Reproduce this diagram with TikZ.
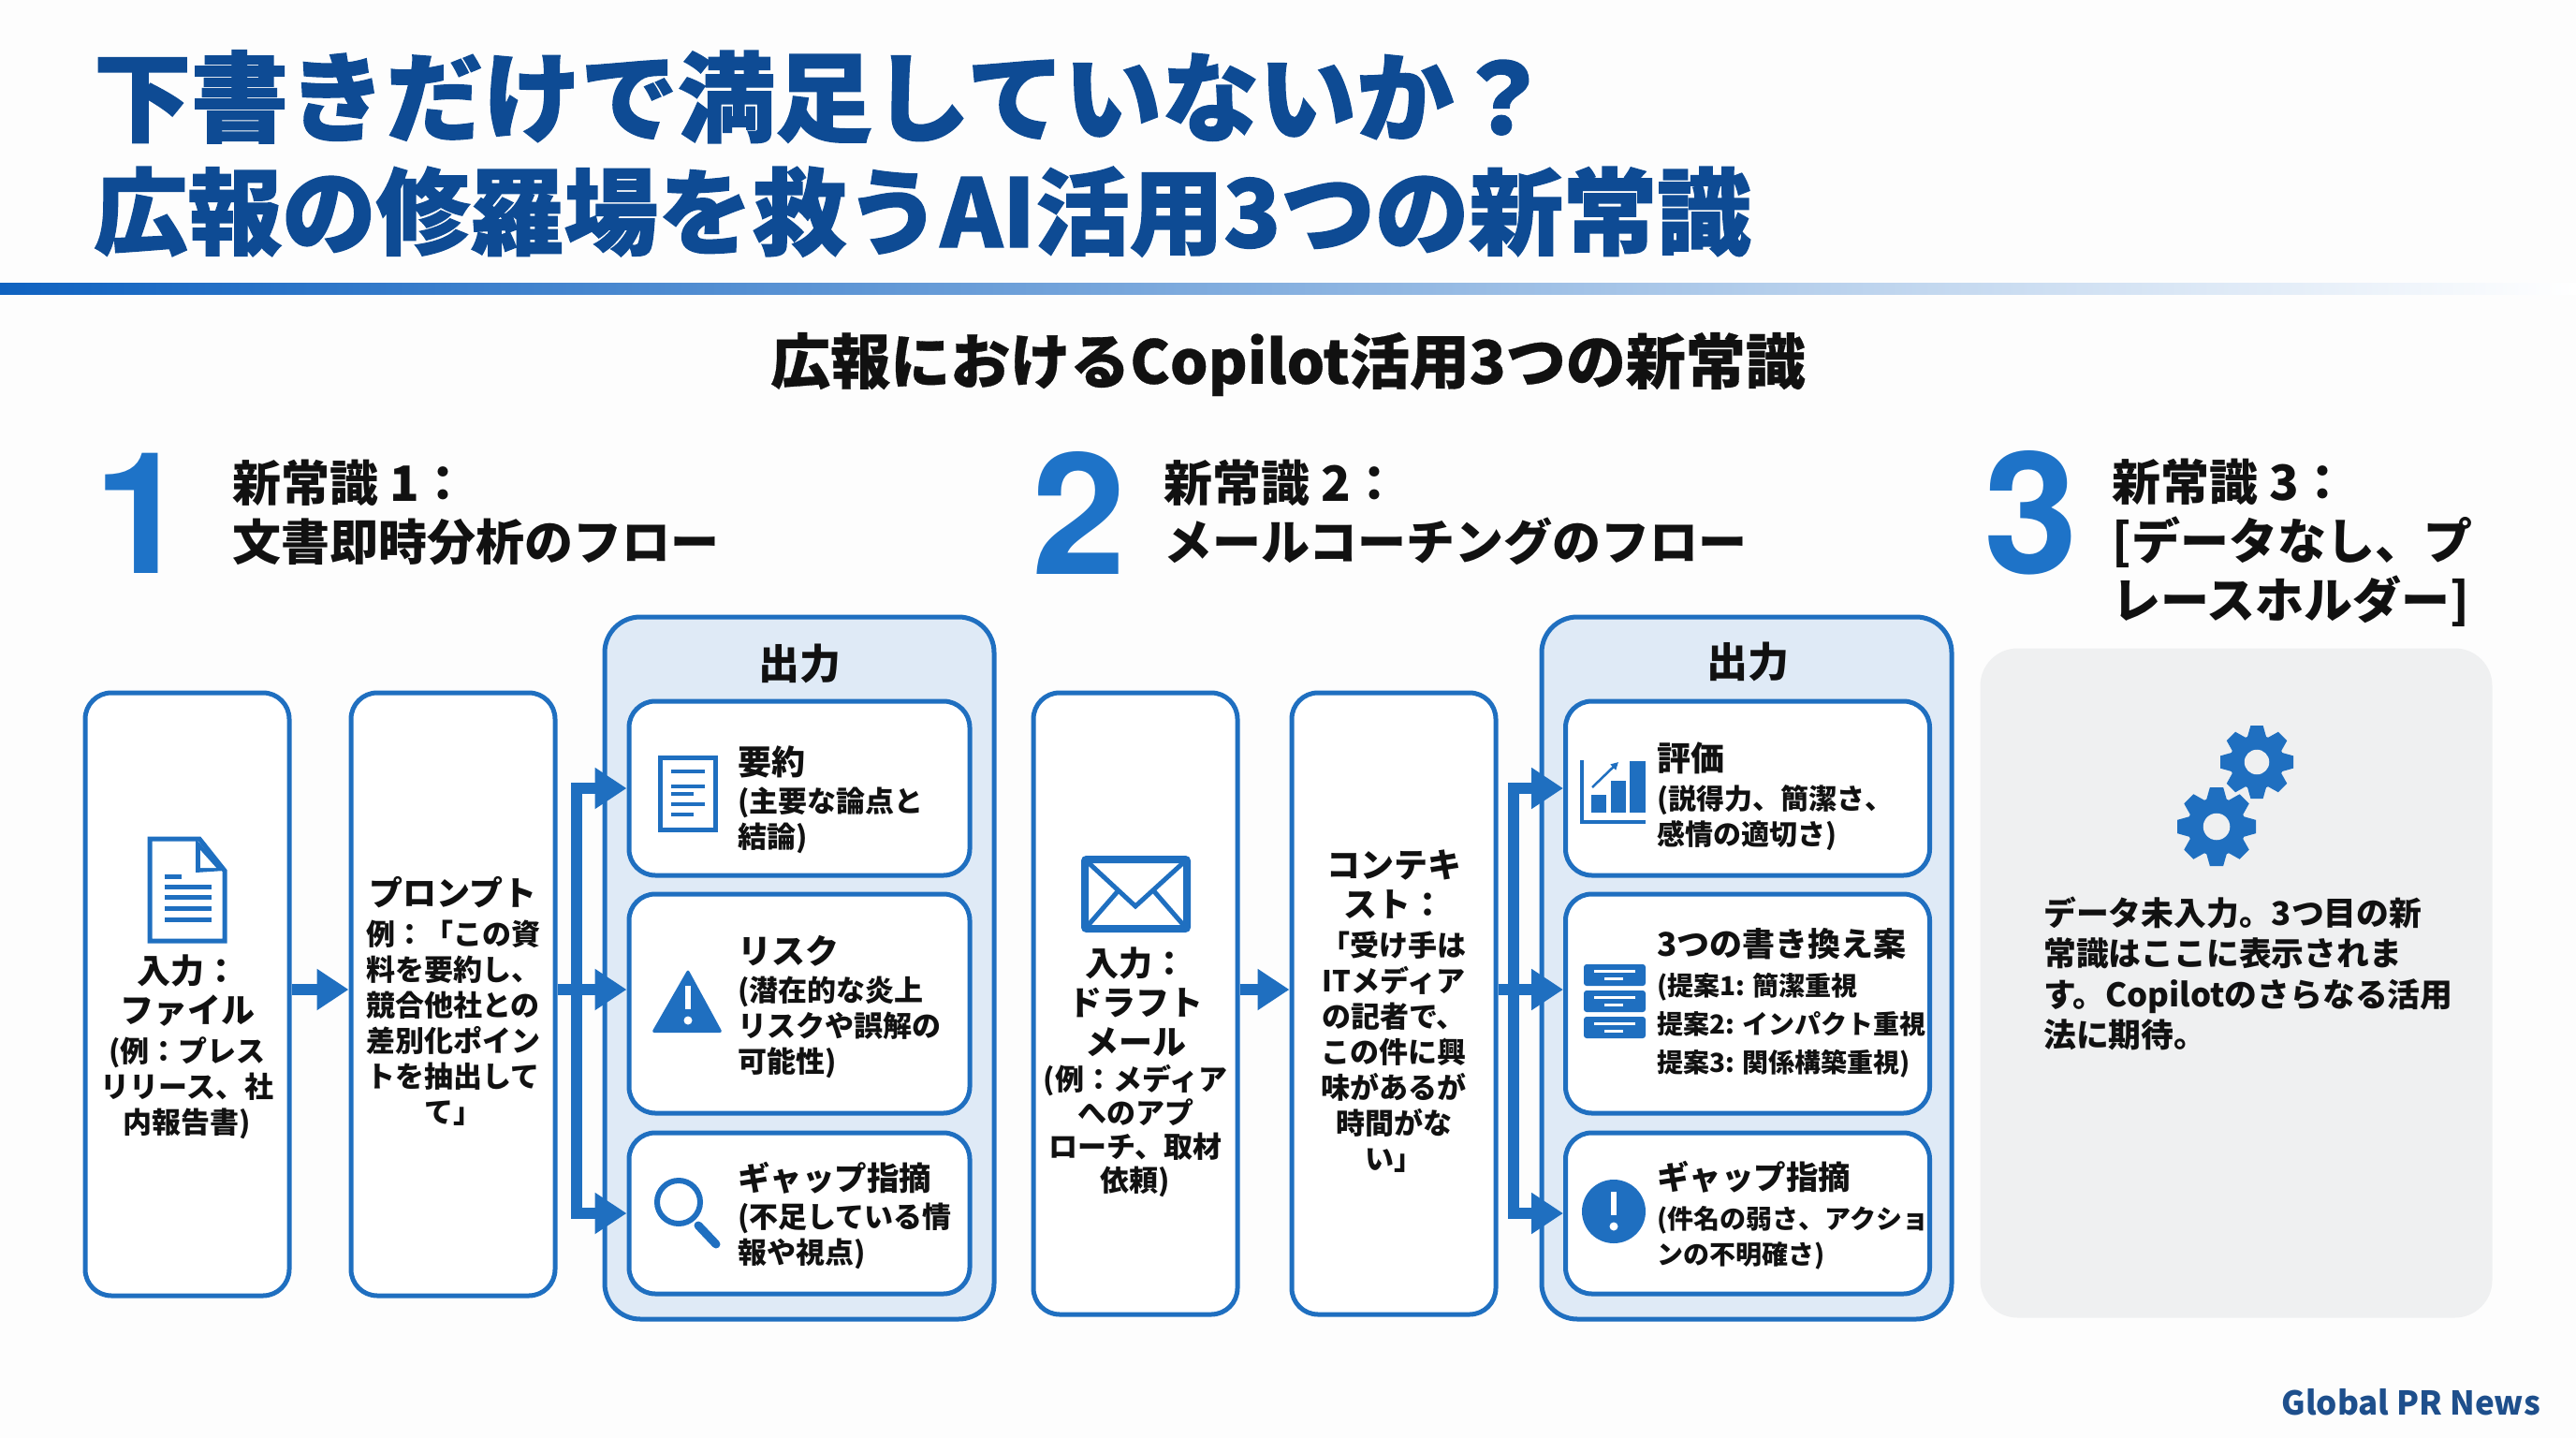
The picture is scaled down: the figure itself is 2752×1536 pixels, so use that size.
\documentclass[tikz,border=0pt]{standalone}
\usepackage{fontspec}
\setmainfont{Noto Sans CJK JP}
\newfontfamily\numfont{TeX Gyre Heros}[UprightFont=*,BoldFont=* Bold]
\newfontfamily\titlefont{Noto Sans CJK JP}[BoldFeatures={FakeBold=1.4}]
\newfontfamily\subfont{Noto Sans CJK JP}[BoldFeatures={FakeBold=0.5}]
\usetikzlibrary{arrows.meta,calc}
\definecolor{bluemain}{HTML}{1F6FC0}
\definecolor{numblue}{HTML}{1E73C8}
\definecolor{titleblue}{HTML}{0E4B94}
\definecolor{panelfill}{HTML}{DFEAF6}
\definecolor{greyfill}{HTML}{EFF0F1}
\definecolor{pagebg}{HTML}{FDFDFD}
\definecolor{brandblue}{HTML}{1E4F8C}
\definecolor{inkblack}{HTML}{111111}
\definecolor{rulestart}{HTML}{0F62C0}
\newcommand\lgt{\fontsize{36}{38}\selectfont}
\newcommand\mdt{\fontsize{34.5}{38}\selectfont}
\newcommand\smt{\fontsize{31}{38}\selectfont}
\newcommand\tnt{\fontsize{30}{38}\selectfont}
\newcommand\nnt{\fontsize{28}{38}\selectfont}
\tikzset{
  flowbox/.style={draw=bluemain,line width=5pt,rounded corners=28pt,fill=white,inner sep=0pt},
  panelbox/.style={draw=bluemain,line width=5pt,rounded corners=38pt,fill=panelfill,inner sep=0pt},
  greybox/.style={fill=greyfill,rounded corners=40pt,inner sep=0pt},
  fatarrow/.style={draw=bluemain,line width=12pt,-{Triangle[length=34pt,width=42pt]}},
  ctext/.style={inner sep=0pt,align=center,text=inkblack,font=\bfseries\fontsize{31}{38}\selectfont},
  ltext/.style={inner sep=0pt,align=left,anchor=west,text=inkblack,font=\bfseries\fontsize{31}{38}\selectfont},
  headtext/.style={inner sep=0pt,align=left,anchor=west,text=inkblack,font=\bfseries\fontsize{52}{63}\selectfont},
  bignum/.style={inner sep=0pt,text=numblue,font=\numfont\bfseries\fontsize{181}{181}\selectfont},
  paneltitle/.style={inner sep=0pt,text=inkblack,font=\bfseries\fontsize{44}{50}\selectfont},
  icon/.style={draw=bluemain,line width=5pt}
}
\newcommand\gearicon[3]{%
  \fill[bluemain] (#1,#2) circle[radius=#3*0.74];
  \foreach \a in {0,45,...,315}{
    \fill[bluemain,shift={(#1,#2)},rotate=\a,line join=round]
      (#3*0.68,-#3*0.26) -- (#3,-#3*0.17) -- (#3,#3*0.17) -- (#3*0.68,#3*0.26) -- cycle;
  }
  \fill[greyfill] (#1,#2) circle[radius=#3*0.34];
}
\begin{document}
\begin{tikzpicture}[x=1pt,y=-1pt]
\useasboundingbox (0,0) rectangle (2752,1536);
\fill[pagebg] (0,0) rectangle (2752,1536);
% title
\node[inner sep=0pt,align=left,anchor=west,text=titleblue,font=\titlefont\bfseries\fontsize{102}{121}\selectfont] (title) at (100,164) {\fontsize{104}{121}\selectfont 下書きだけで満足していないか？\\\fontsize{100.5}{121}\selectfont 広報の修羅場を救うAI活用3つの新常識};
\shade[left color=rulestart,right color=white] (0,302) rectangle (2752,314);
\node[inner sep=0pt,text=inkblack,font=\subfont\bfseries\fontsize{64}{70}\selectfont] (subtitle) at (1376,389) {広報におけるCopilot活用3つの新常識};

% section headings
\node[bignum] (n1) at (151,548) {1};
\node[headtext] (h1) at (248,547) {新常識 1：\\文書即時分析のフロー};
\node[bignum] (n2) at (1153,548) {2};
\node[headtext] (h2) at (1243,547) {新常識 2：\\メールコーチングのフロー};
\node[bignum] (n3) at (2170,548) {3};
\node[headtext] (h3) at (2256,580) {新常識 3：\\{}[データなし、プ\\レースホルダー]};

% flow 1
\node[flowbox,minimum width=218pt,minimum height=644pt] (a1) at (200,1062) {};
\node[flowbox,minimum width=218pt,minimum height=644pt] (b1) at (484,1062) {};
\node[panelbox,minimum width=416pt,minimum height=750pt] (p1) at (854,1034) {};
\node[paneltitle] (p1t) at (854,709) {出力};
\node[flowbox,minimum width=364pt,minimum height=186pt] (o11) at (854,842) {};
\node[flowbox,minimum width=364pt,minimum height=234pt] (o12) at (854,1072) {};
\node[flowbox,minimum width=364pt,minimum height=172pt] (o13) at (854,1296) {};
\coordinate (bus1) at (616,1057);
\draw[fatarrow] ([yshift=5pt]a1.east) -- ([yshift=5pt]b1.west);
\draw[fatarrow] ([yshift=5pt]b1.east) -- ([yshift=15pt]o12.west);
\draw[fatarrow] (bus1) |- (o11.west);
\draw[fatarrow] (bus1) |- (o13.west);

\node[ctext] (a1t) at (200,1118) {\lgt 入力：\\[4pt]\lgt ファイル\\[4pt]\smt (例：プレス\\\smt リリース、社\\\smt 内報告書)};
\node[ctext] (b1t) at (484,1069) {\lgt プロンプト\\[4pt]\smt 例：「この資\\\smt 料を要約し、\\\smt 競合他社との\\\smt 差別化ポイン\\\smt トを抽出して\\\smt て」};
\node[ltext] (o11t) at (788,854) {\lgt 要約\\[2pt]\smt (主要な論点と\\\smt 結論)};
\node[ltext] (o12t) at (788,1076) {\lgt リスク\\[2pt]\smt (潜在的な炎上\\\smt リスクや誤解の\\\smt 可能性)};
\node[ltext] (o13t) at (788,1299) {\mdt ギャップ指摘\\[2pt]\smt (不足している情\\\smt 報や視点)};

% flow 2
\node[flowbox,minimum width=218pt,minimum height=664pt] (a2) at (1213,1072) {};
\node[flowbox,minimum width=218pt,minimum height=664pt] (b2) at (1489,1072) {};
\node[panelbox,minimum width=438pt,minimum height=750pt] (p2) at (1866,1034) {};
\node[paneltitle] (p2t) at (1867,707) {出力};
\node[flowbox,minimum width=389pt,minimum height=186pt] (o21) at (1867,842) {};
\node[flowbox,minimum width=389pt,minimum height=234pt] (o22) at (1867,1072) {};
\node[flowbox,minimum width=389pt,minimum height=172pt] (o23) at (1867,1296) {};
\coordinate (bus2) at (1617,1057);
\draw[fatarrow] ([yshift=15pt]a2.east) -- ([yshift=15pt]b2.west);
\draw[fatarrow] ([yshift=15pt]b2.east) -- ([yshift=15pt]o22.west);
\draw[fatarrow] (bus2) |- (o21.west);
\draw[fatarrow] (bus2) |- (o23.west);

\node[ctext] (a2t) at (1213,1145) {\lgt 入力：\\[4pt]\lgt ドラフト\\[4pt]\lgt メール\\[0pt]\smt (例：メディア\\[-2pt]\smt へのアプ\\[-2pt]\smt ローチ、取材\\[-2pt]\smt 依頼)};
\node[ctext] (b2t) at (1489,1080) {\lgt コンテキ\\[4pt]\lgt スト：\\[4pt]\smt 「受け手は\\\smt ITメディア\\\smt の記者で、\\\smt この件に興\\\smt 味があるが\\\smt 時間がな\\\smt い」};
\node[ltext] (o21t) at (1770,851) {\lgt 評価\\[3pt]\tnt (説得力、簡潔さ、\\\tnt 感情の適切さ)};
\node[ltext] (o22t) at (1770,1071) {\fontsize{35}{38}\selectfont 3つの書き換え案\\[4pt]\nnt (提案1: 簡潔重視\\[3pt]\nnt 提案2: インパクト重視\\[3pt]\nnt 提案3: 関係構築重視)};
\node[ltext] (o23t) at (1770,1298) {\mdt ギャップ指摘\\[4pt]\nnt (件名の弱さ、アクショ\\\nnt ンの不明確さ)};

% panel 3
\node[greybox,minimum width=547pt,minimum height=715pt] (p3) at (2389,1050) {};
\gearicon{2411}{814}{39}
\gearicon{2368}{883}{42}
\node[ltext,font=\bfseries\fontsize{34.8}{43.5}\selectfont] (p3t) at (2183,1040) {データ未入力。3つ目の新\\常識はここに表示されま\\す。Copilotのさらなる活用\\法に期待。};
\node[inner sep=0pt,anchor=east,text=brandblue,font=\bfseries\fontsize{35}{44}\selectfont] (brand) at (2714,1498) {Global PR News};

% icon: file
\draw[icon,line join=miter,fill=white] (160,896) -- (213,896) -- (240,930) -- (240,1005) -- (160,1005) -- cycle;
\fill[bluemain] (209,896) -- (240,930) -- (209,932) -- cycle;
\fill[white] (214,908) -- (231,927) -- (214,927) -- cycle;
\foreach \yy/\xe in {936/194,947/226,958/226,970/226,982/226}{
  \draw[bluemain,line width=5pt] (176,\yy) -- (\xe,\yy);
}
% icon: summary
\draw[icon] (705,809) rectangle (764,886);
\foreach \yy/\xe in {824/753,840/753,848/741,859/753,870/741}{
  \draw[bluemain,line width=4pt] (717,\yy) -- (\xe,\yy);
}
% icon: warning
\fill[bluemain,rounded corners=3pt] (735,1035) -- (772,1103) -- (696,1103) -- cycle;
\draw[white,line width=6pt] (735,1053) -- (735,1078);
\fill[white] (735,1090) circle[radius=4.5];
% icon: magnifier
\draw[bluemain,line width=6pt] (725,1284) circle[radius=23];
\draw[bluemain,line width=9pt,line cap=round] (746,1309) -- (765,1329);
% icon: envelope
\draw[bluemain,line width=8pt,fill=white,rounded corners=2pt] (1159,918) rectangle (1268,992);
\draw[bluemain,line width=5pt] (1159,918) -- (1213,968) -- (1268,918);
\draw[bluemain,line width=5pt] (1161,990) -- (1195,951) (1266,990) -- (1232,951);
% icon: chart
\draw[bluemain,line width=4pt] (1690,812) -- (1690,878) -- (1758,878);
\fill[bluemain] (1700,849) rectangle (1716,868);
\fill[bluemain] (1721,834) rectangle (1737,868);
\fill[bluemain] (1741,813) rectangle (1758,868);
\draw[bluemain,line width=2.5pt,-{Triangle[length=8pt,width=8pt]}] (1701,841) -- (1729,814);
% icon: stack
\foreach \yb/\ye in {1030/1053,1058/1081,1086/1109}{
  \fill[bluemain,rounded corners=3pt] (1692,\yb) rectangle (1758,\ye);
  \draw[white,line width=3pt] (1703,\yb+7) -- (1747,\yb+7);
  \draw[white,line width=3pt] (1714,\yb+15) -- (1734,\yb+15);
}
% icon: alert
\fill[bluemain] (1724,1294) circle[radius=34];
\draw[white,line width=6pt] (1724,1273) -- (1724,1298);
\fill[white] (1724,1310) circle[radius=4.5];
\end{tikzpicture}
\end{document}
